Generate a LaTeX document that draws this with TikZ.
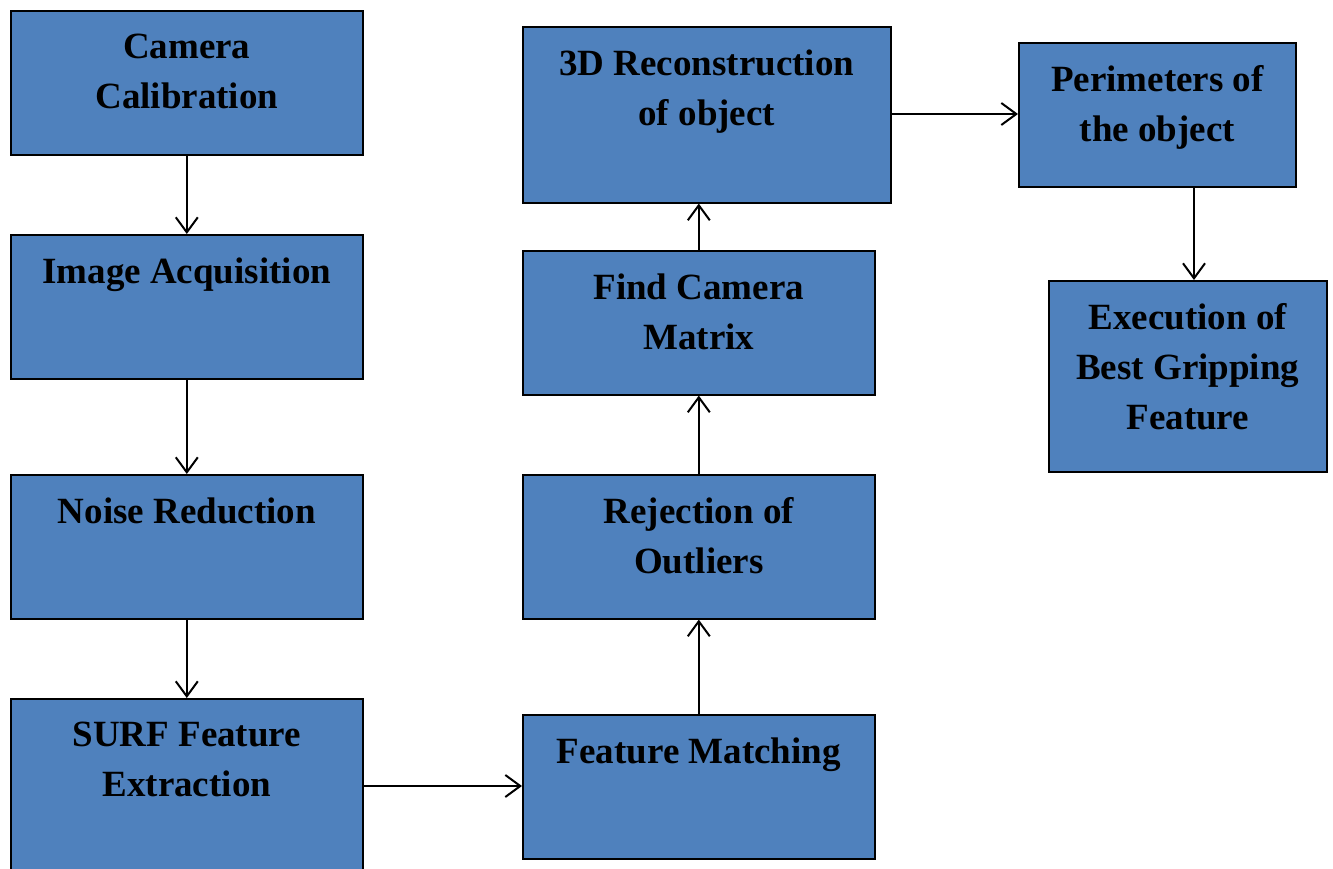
\documentclass[tikz,border=0pt]{standalone}
\usepackage{fontspec}
\setmainfont{Liberation Serif}
\usetikzlibrary{arrows.meta}
\definecolor{boxblue}{HTML}{4F81BD}
\newcommand{\blktext}[3]{\parbox[c][#2pt][t]{#1pt}{\centering\vspace*{23pt}#3}}
\tikzset{
  blk/.style={draw=black, fill=boxblue, line width=1.6pt, inner sep=0pt, anchor=north west,
    font=\fontsize{37}{50}\selectfont\bfseries},
  flow/.style={line width=2pt, -{Straight Barb[length=15pt,width=22pt,line width=2pt]}}
}
\begin{document}
\begin{tikzpicture}[x=1pt,y=-1pt]
\clip (0,0) rectangle (1333,869);
\fill[white] (0,0) rectangle (1333,869);
% left column
\node[blk] (cal) at (10,10) {\blktext{352}{144}{Camera\\Calibration}};
\node[blk] (acq) at (10,234) {\blktext{352}{144}{Image Acquisition}};
\node[blk] (noise) at (10,474) {\blktext{352}{144}{Noise Reduction}};
\node[blk] (surf) at (10,698) {\blktext{352}{190}{SURF Feature\\Extraction}};
% middle column
\node[blk] (recon) at (522,26) {\blktext{368}{176}{3D Reconstruction\\of object}};
\node[blk] (cam) at (522,250) {\blktext{352}{144}{Find Camera\\Matrix}};
\node[blk] (rej) at (522,474) {\blktext{352}{144}{Rejection of\\Outliers}};
\node[blk] (match) at (522,714) {\blktext{352}{144}{Feature Matching}};
% right column
\node[blk] (perim) at (1018,42) {\blktext{277}{144}{Perimeters of\\the object}};
\node[blk] (exec) at (1048,280) {\blktext{278}{191}{Execution of\\Best Gripping\\Feature}};
% connectors
\draw[flow] (cal.south) -- (acq.north);
\draw[flow] (acq.south) -- (noise.north);
\draw[flow] (noise.south) -- (surf.north);
\draw[flow] (surf.east |- 0,786) -- (match.west |- 0,786);
\draw[flow] (match.north) -- (rej.south);
\draw[flow] (rej.north) -- (cam.south);
\draw[flow] (cam.north) -- (cam.north |- recon.south);
\draw[flow] (recon.east |- 0,114) -- (perim.west |- 0,114);
\draw[flow] (perim.south -| 1194,0) -- (exec.north -| 1194,0);
\end{tikzpicture}
\end{document}
